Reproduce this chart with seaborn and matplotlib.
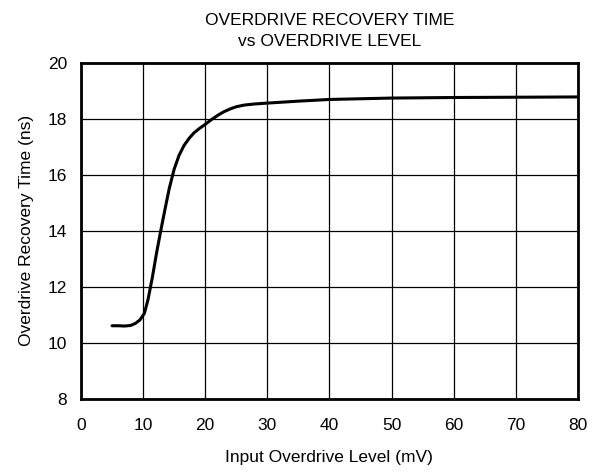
import numpy as np
import pandas as pd
import matplotlib
matplotlib.use("Agg")
import matplotlib.pyplot as plt
import seaborn as sns

# values
overdrive_mv = [5, 6, 7, 8, 8.8, 9.5, 10.2, 10.8, 11.5, 12.2, 12.9, 13.6, 14.2,
                15.0, 15.8, 16.6, 17.4, 18.2, 19.1, 20.0, 21.0, 22.0, 23.0,
                24.0, 25.0, 26.3, 28.0, 30.0, 35.0, 40.0, 50.0, 60.0, 70.0, 80.0]
recovery_ns = [10.61, 10.61, 10.60, 10.62, 10.70, 10.82, 11.05, 11.55, 12.35,
               13.25, 14.07, 14.85, 15.5, 16.2, 16.7, 17.05, 17.3, 17.5,
               17.66, 17.8, 17.97, 18.12, 18.25, 18.35, 18.43, 18.49, 18.53,
               18.56, 18.63, 18.69, 18.74, 18.76, 18.77, 18.78]

df = pd.DataFrame({"x": overdrive_mv, "y": recovery_ns})

sns.set_theme(style="white")
plt.rcParams["font.family"] = ["Liberation Sans", "DejaVu Sans"]
plt.rcParams["text.color"] = "black"
plt.rcParams["axes.labelcolor"] = "black"

fig = plt.figure(figsize=(6, 4.72), dpi=100)
ax = fig.add_axes([0.135, 0.155, 0.828, 0.712])

sns.lineplot(data=df, x="x", y="y", ax=ax, color="black", linewidth=2.2, sort=False)

ax.set_xlim(0, 80)
ax.set_ylim(8, 20)
ax.set_xticks(np.arange(0, 81, 10))
ax.set_yticks(np.arange(8, 21, 2))
ax.grid(True, color="black", linewidth=0.9)
for s in ax.spines.values():
    s.set_color("black")
    s.set_linewidth(2)
ax.tick_params(axis="both", labelsize=12.5, length=0, colors="black")
ax.tick_params(axis="x", pad=14)
ax.tick_params(axis="y", pad=10)
ax.set_xlabel("Input Overdrive Level (mV)", fontsize=12.5, labelpad=12)
ax.set_ylabel("Overdrive Recovery Time (ns)", fontsize=12.5, labelpad=10)
ax.set_title("OVERDRIVE RECOVERY TIME\nvs OVERDRIVE LEVEL", fontsize=12.5, pad=12,
             linespacing=1.55)

fig.savefig("out.png", dpi=100)
